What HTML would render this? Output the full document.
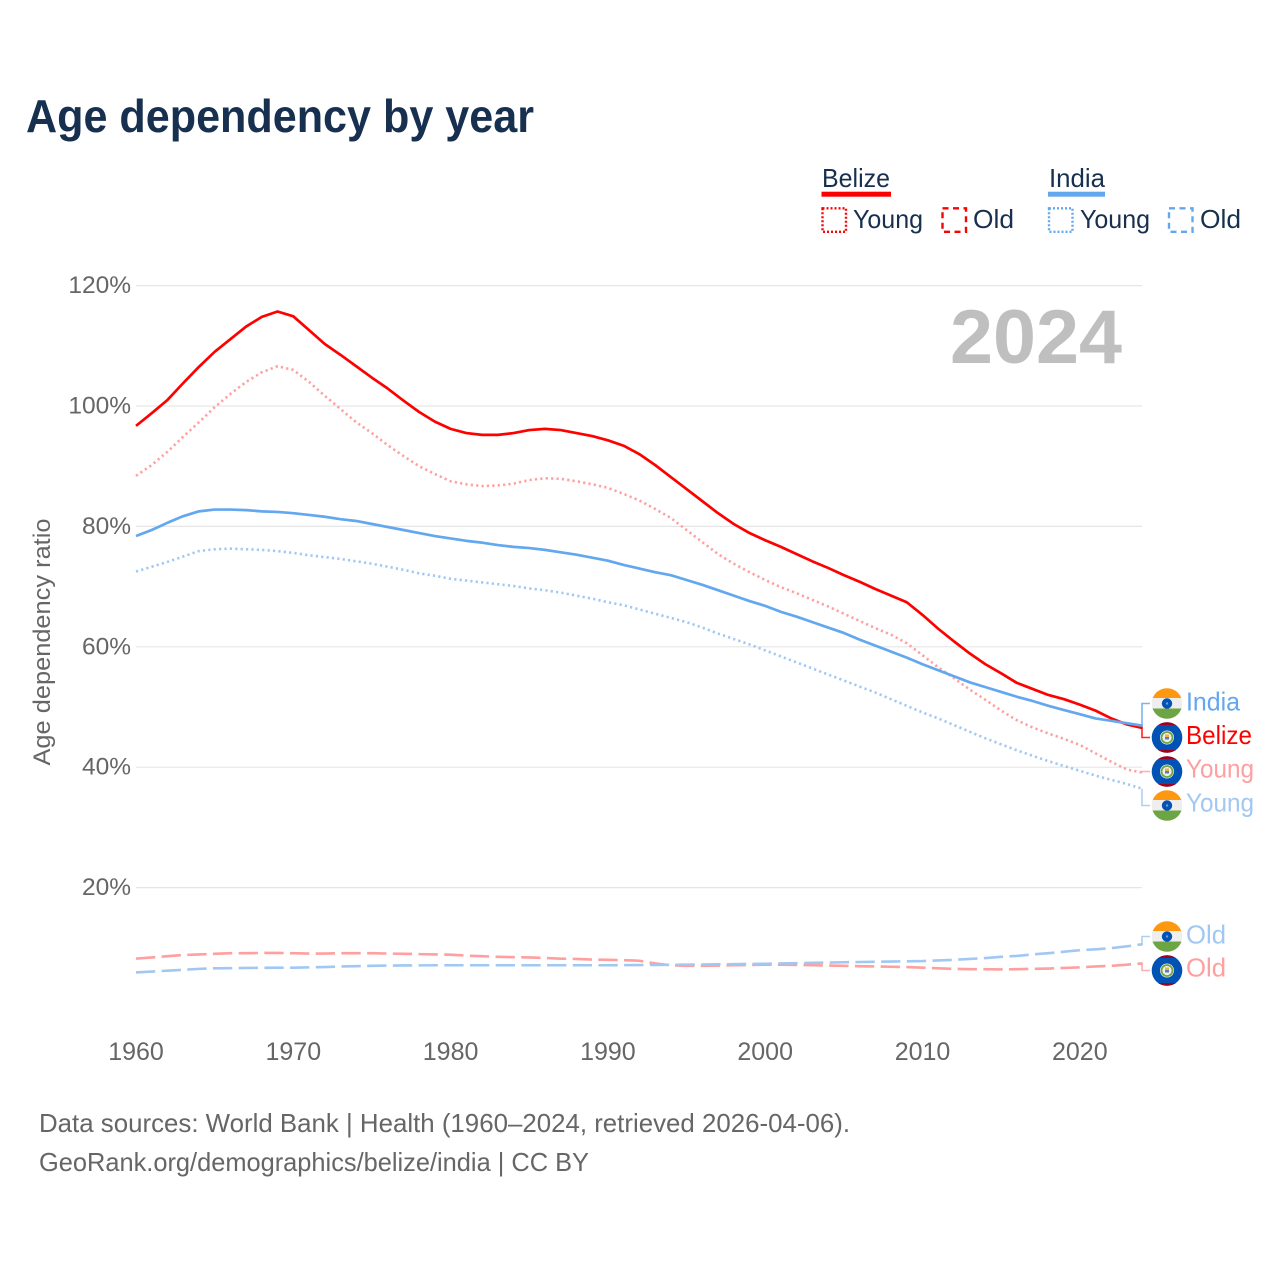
<!DOCTYPE html>
<html lang="en">
<head>
<meta charset="utf-8">
<title>Age dependency by year</title>
<style>
html,body{margin:0;padding:0;background:#fff;width:1280px;height:1280px;overflow:hidden}
svg{display:block}
text{font-family:"Liberation Sans",sans-serif}
</style>
</head>
<body>
<svg id="chart" xmlns="http://www.w3.org/2000/svg" width="1280" height="1280" viewBox="0 0 1280 1280">
  <rect x="0" y="0" width="1280" height="1280" fill="#fff"/>
  <text x="26" y="132" font-size="46" font-weight="bold" fill="#17304f" textLength="508" lengthAdjust="spacingAndGlyphs">Age dependency by year</text>

  <g>
    <g>
      <text x="822" y="187" font-size="26" fill="#17304f" textLength="68" lengthAdjust="spacingAndGlyphs">Belize</text>
      <rect x="821.500" y="191.700" width="69.500" height="5" fill="#ff0000"/>
      <rect x="822.500" y="208.300" width="23.500" height="23.500" fill="none" stroke="#ff0000" stroke-width="2.400" stroke-dasharray="2 2"/>
      <text x="853" y="228" font-size="26" fill="#17304f" textLength="70" lengthAdjust="spacingAndGlyphs">Young</text>
      <rect x="942.500" y="208.300" width="23.500" height="23.500" fill="none" stroke="#ff0000" stroke-width="2.400" stroke-dasharray="6 4.500"/>
      <text x="973" y="228" font-size="26" fill="#17304f" textLength="41" lengthAdjust="spacingAndGlyphs">Old</text>
    </g>
    <g>
      <text x="1049" y="187" font-size="26" fill="#17304f" textLength="56" lengthAdjust="spacingAndGlyphs">India</text>
      <rect x="1048" y="191.700" width="57" height="5" fill="#63a7ef"/>
      <rect x="1049" y="208.300" width="23.500" height="23.500" fill="none" stroke="#63a7ef" stroke-width="2.400" stroke-dasharray="2 2"/>
      <text x="1080" y="228" font-size="26" fill="#17304f" textLength="70" lengthAdjust="spacingAndGlyphs">Young</text>
      <rect x="1169" y="208.300" width="23.500" height="23.500" fill="none" stroke="#63a7ef" stroke-width="2.400" stroke-dasharray="6 4.500"/>
      <text x="1200" y="228" font-size="26" fill="#17304f" textLength="41" lengthAdjust="spacingAndGlyphs">Old</text>
    </g>
  </g>

  <text transform="translate(50,642) rotate(-90)" text-anchor="middle" font-size="24.500" fill="#666666" textLength="247" lengthAdjust="spacingAndGlyphs">Age dependency ratio</text>
  <g id="grid"></g>
  <g id="yTickGroup"></g>
  <g id="xTickGroup"></g>
  <text x="950" y="363" font-size="76" font-weight="bold" fill="#bfbfbf" textLength="172" lengthAdjust="spacingAndGlyphs">2024</text>
  <g id="lines"></g>
  <g id="ends"></g>

  <text x="39" y="1132" font-size="26" fill="#666666" textLength="811" lengthAdjust="spacingAndGlyphs">Data sources: World Bank | Health (1960–2024, retrieved 2026-04-06).</text>
  <text x="39" y="1171" font-size="26" fill="#666666" textLength="550" lengthAdjust="spacingAndGlyphs">GeoRank.org/demographics/belize/india | CC BY</text>
</svg>
<script>
const years = [1960,1961,1962,1963,1964,1965,1966,1967,1968,1969,1970,1971,1972,1973,1974,1975,1976,1977,1978,1979,1980,1981,1982,1983,1984,1985,1986,1987,1988,1989,1990,1991,1992,1993,1994,1995,1996,1997,1998,1999,2000,2001,2002,2003,2004,2005,2006,2007,2008,2009,2010,2011,2012,2013,2014,2015,2016,2017,2018,2019,2020,2021,2022,2023,2024];
const belizeTotal = [96.7,98.8,101,103.8,106.5,109,111.1,113.2,114.8,115.7,114.9,112.6,110.3,108.5,106.6,104.7,102.9,100.9,99,97.4,96.2,95.5,95.2,95.2,95.5,96,96.2,96,95.5,95,94.3,93.4,92,90.2,88.2,86.2,84.2,82.2,80.4,78.9,77.7,76.6,75.4,74.2,73.1,71.9,70.8,69.6,68.5,67.4,65.3,63,60.9,58.9,57.1,55.6,54,53,52,51.3,50.4,49.4,48.1,47.1,46.5];
const belizeYoung = [88.4,90.2,92.4,94.9,97.3,99.8,102,104,105.6,106.6,106,104,101.7,99.5,97.3,95.5,93.5,91.7,90,88.7,87.5,87,86.7,86.8,87.1,87.7,88,87.9,87.5,87,86.4,85.4,84.3,82.9,81.4,79.4,77.4,75.4,73.8,72.4,71.1,69.9,68.9,67.8,66.7,65.5,64.3,63.1,62,60.6,58.6,56.6,54.8,52.9,51.2,49.4,47.8,46.6,45.6,44.7,43.7,42.3,40.9,39.6,39.1];
const belizeOld = [8.2,8.4,8.6,8.8,8.9,9,9.1,9.1,9.15,9.15,9.1,9.05,9.05,9.1,9.1,9.1,9.05,9,8.95,8.9,8.85,8.7,8.6,8.5,8.45,8.4,8.3,8.2,8.15,8.05,8,7.95,7.85,7.4,7.1,7,7,7.05,7.1,7.15,7.2,7.2,7.15,7.1,7.05,7,6.95,6.9,6.85,6.8,6.7,6.6,6.5,6.45,6.45,6.4,6.45,6.5,6.55,6.65,6.75,6.9,7,7.2,7.4];
const indiaTotal = [78.4,79.4,80.6,81.7,82.5,82.8,82.8,82.7,82.5,82.4,82.2,81.9,81.6,81.2,80.9,80.4,79.9,79.4,78.9,78.4,78,77.6,77.3,76.9,76.6,76.4,76.1,75.7,75.3,74.8,74.3,73.6,73,72.4,71.9,71.1,70.3,69.4,68.5,67.6,66.8,65.8,65,64.1,63.2,62.3,61.2,60.2,59.2,58.2,57.1,56.1,55.1,54.1,53.3,52.5,51.7,51,50.2,49.5,48.8,48.1,47.7,47.3,46.9];
const indiaYoung = [72.5,73.3,74.1,75,75.9,76.2,76.3,76.2,76.1,75.9,75.6,75.2,74.9,74.6,74.2,73.8,73.3,72.8,72.2,71.8,71.3,71,70.7,70.4,70.1,69.7,69.4,69,68.5,68,67.4,66.9,66.2,65.5,64.8,64.1,63.2,62.2,61.3,60.4,59.4,58.4,57.4,56.4,55.4,54.4,53.4,52.4,51.3,50.2,49.1,48.1,47,45.9,44.8,43.8,42.8,41.9,41,40.2,39.4,38.6,37.9,37.2,36.4];
const indiaOld = [5.9,6.05,6.2,6.35,6.5,6.6,6.62,6.65,6.68,6.7,6.7,6.75,6.8,6.9,6.95,7,7.05,7.07,7.08,7.1,7.1,7.1,7.1,7.1,7.1,7.1,7.1,7.1,7.1,7.1,7.1,7.12,7.14,7.16,7.18,7.2,7.22,7.25,7.28,7.32,7.35,7.4,7.45,7.5,7.55,7.6,7.64,7.68,7.72,7.76,7.8,7.9,8,8.15,8.3,8.5,8.65,8.9,9.1,9.35,9.6,9.75,9.95,10.25,10.6];
const yTickValues = [20,40,60,80,100,120];
const yTickLabels = ['20%','40%','60%','80%','100%','120%'];
const xTickValues = [1960,1970,1980,1990,2000,2010,2020];
const xTickLabels = ['1960','1970','1980','1990','2000','2010','2020'];

const NS = 'http://www.w3.org/2000/svg';
function xScale(year){ return 136 + (year - 1960) * 15.73; }
function yScale(v){ return 1008 - v * 6.02; }
function make(tag, attrs, parent){
  const el = document.createElementNS(NS, tag);
  for (const k in attrs) el.setAttribute(k, attrs[k]);
  parent.appendChild(el);
  return el;
}

const grid = document.getElementById('grid');
const yTickGroup = document.getElementById('yTickGroup');
yTickValues.forEach(function(v, i){
  const line = make('line', {x1:136, x2:1142, y1:yScale(v), y2:yScale(v), stroke:'#e6e6e6', 'stroke-width':1.2}, grid);
  
  
  const t = make('text', {x:131, y:yScale(v)+7.5, 'text-anchor':'end', 'font-size':24.5, fill:'#666666'}, yTickGroup);
  t.textContent = yTickLabels[i];
  
  
});

const xTickGroup = document.getElementById('xTickGroup');
xTickValues.forEach(function(v, i){
  const t = make('text', {x:xScale(v), y:1060, 'text-anchor':'middle', 'font-size':25, fill:'#666666'}, xTickGroup);
  t.textContent = xTickLabels[i];
  
  
});

const RED = '#ff0000', BLUE = '#63a7ef', LRED = '#ff9f9f', LBLUE = '#a1c8f2';
const DOT = '2.2 3.2', DASH = '19.300 6.400';
const lines = document.getElementById('lines');
function drawLine(name, values, color, dash, width){
  const d = values.map(function(v, i){
    return (i ? 'L' : 'M') + xScale(years[i]).toFixed(2) + ',' + yScale(v).toFixed(2);
  }).join(' ');
  const p = make('path', {d:d, fill:'none', stroke:color, 'stroke-width':width, 'stroke-linejoin':'round'}, lines);
  if (dash) p.setAttribute('stroke-dasharray', dash);
  
  
}
drawLine('line-belize-old', belizeOld, LRED, DASH, 2.6);
drawLine('line-india-old', indiaOld, LBLUE, DASH, 2.6);
drawLine('line-india-young', indiaYoung, LBLUE, DOT, 2.6);
drawLine('line-belize-young', belizeYoung, LRED, DOT, 2.6);
drawLine('line-belize-total', belizeTotal, RED, null, 2.7);
drawLine('line-india-total', indiaTotal, BLUE, null, 2.7);

const ends = document.getElementById('ends');
function flag(country, cy, clipId){
  const g = make('g', {}, ends);
  
  
  const cp = make('clipPath', {id:clipId}, g);
  make('circle', {cx:1167, cy:cy, r:15.300}, cp);
  const inner = make('g', {'clip-path':'url(#' + clipId + ')'}, g);
  if (country === 'india') {
    make('rect', {x:1150, y:cy-16, width:34, height:11, fill:'#ff9811'}, inner);
    make('rect', {x:1150, y:cy-5.500, width:34, height:11, fill:'#eeeeee'}, inner);
    make('rect', {x:1150, y:cy+5, width:34, height:11, fill:'#6da544'}, inner);
    make('circle', {cx:1167, cy:cy, r:5.200, fill:'#0052b4'}, inner);
    make('circle', {cx:1167, cy:cy, r:1.200, fill:'#6d9ad6'}, inner);
  } else {
    make('rect', {x:1150, y:cy-16, width:34, height:32, fill:'#0052b4'}, inner);
    make('rect', {x:1150, y:cy-16, width:34, height:3.500, fill:'#a2001d'}, inner);
    make('rect', {x:1150, y:cy+12.500, width:34, height:3.500, fill:'#a2001d'}, inner);
    make('circle', {cx:1167, cy:cy, r:7, fill:'#eeeeee'}, inner);
    make('circle', {cx:1167, cy:cy, r:5.500, fill:'none', stroke:'#6da544', 'stroke-width':1.800}, inner);
    make('rect', {x:1165, y:cy-3, width:4, height:2.500, fill:'#f0b040'}, inner);
    make('rect', {x:1165, y:cy-0.500, width:4, height:2.500, fill:'#5a7fb0'}, inner);
  }
}
function endLabel(name, text, country, color, endValue, labelY, textY, textW){
  const c = make('path', {d:'M1142,' + yScale(endValue).toFixed(1) + ' V' + labelY + ' H1150', fill:'none', stroke:color, 'stroke-width':1.6, opacity:0.85}, ends);
  
  
  flag(country, labelY, 'clip-' + name);
  const t = make('text', {x:1186, y:textY, 'font-size':26, fill:color, textLength:textW, lengthAdjust:'spacingAndGlyphs'}, ends);
  t.textContent = text;
  
  
}
const last = years.length - 1;
endLabel('india-total', 'India', 'india', BLUE, indiaTotal[last], 703.500, 710.500, 54);
endLabel('belize-total', 'Belize', 'belize', RED, belizeTotal[last], 737.500, 744, 66);
endLabel('belize-young', 'Young', 'belize', LRED, belizeYoung[last], 771.500, 777.500, 68);
endLabel('india-young', 'Young', 'india', LBLUE, indiaYoung[last], 805.500, 811.500, 68);
endLabel('india-old', 'Old', 'india', LBLUE, indiaOld[last], 936.500, 943.500, 40);
endLabel('belize-old', 'Old', 'belize', LRED, belizeOld[last], 970.500, 976.500, 40);
</script>
</body>
</html>
